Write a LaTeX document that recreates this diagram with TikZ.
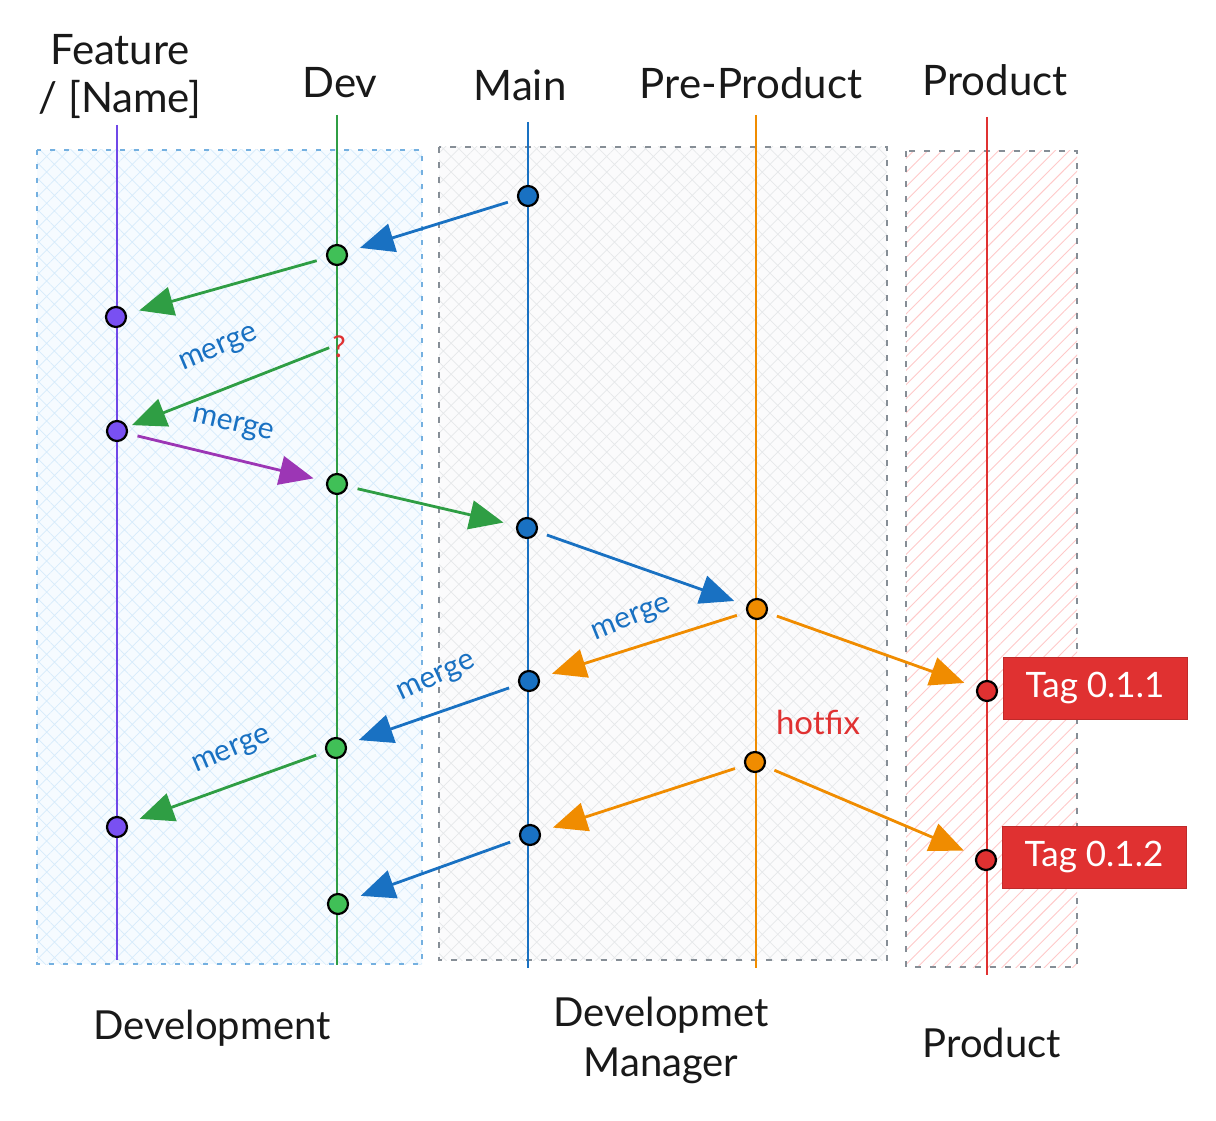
\documentclass[tikz,border=0pt]{standalone}
\usepackage{fontspec}
\setmainfont{Lato}
\usetikzlibrary{arrows.meta,patterns.meta}
\definecolor{cblue}{HTML}{1971C2}
\definecolor{cgreen}{HTML}{2F9E44}
\definecolor{cgreenf}{HTML}{40C057}
\definecolor{cviolet}{HTML}{7048E8}
\definecolor{cvioletf}{HTML}{7950F2}
\definecolor{cpurple}{HTML}{9C36B5}
\definecolor{corange}{HTML}{F08C00}
\definecolor{cred}{HTML}{E03131}
\definecolor{dashblue}{HTML}{74B0E0}
\definecolor{dashgray}{HTML}{868E96}
\definecolor{hatchblue}{HTML}{D6EBFB}
\definecolor{hatchgray}{HTML}{E6E8EA}
\definecolor{hatchred}{HTML}{FFC9C9}
\definecolor{fillblue}{HTML}{F6FBFF}
\definecolor{fillgray}{HTML}{FBFBFC}
\tikzset{
  lane/.style={line width=1.6pt},
  arr/.style={line width=2.8pt, -{Triangle[length=34pt,width=29pt]}, shorten <=10pt, shorten >=13pt},
  dot/.style={circle, minimum size=20pt, inner sep=0pt, fill=#1, draw=black, line width=2.2pt},
  hdr/.style={font=\fontsize{42}{48}\selectfont, align=center, text=black!90},
  ftr/.style={font=\fontsize{40}{50}\selectfont, align=center, text=black!90},
  mlabel/.style={font=\fontsize{30}{34}\selectfont, text=cblue, inner sep=1pt},
  tagbox/.style={fill=cred, draw=cred!85!black, line width=1pt, text=white, font=\fontsize{35}{40}\selectfont, minimum width=184pt, minimum height=62pt, inner sep=0pt},
}
\begin{document}
\begin{tikzpicture}[x=1pt,y=-1pt]
\useasboundingbox (0,0) rectangle (1216,1121);
\fill[white] (0,0) rectangle (1216,1121);
% zone boxes
\fill[fillblue] (37,150) rectangle (422,964);
\fill[pattern={Hatch[angle=45,distance=11pt,line width=0.7pt]}, pattern color=hatchblue] (37,150) rectangle (422,964);
\draw[dashblue, line width=2.6pt, dash pattern=on 5pt off 9pt] (37,150) rectangle (422,964);
\fill[fillgray] (439,147) rectangle (887,960);
\fill[pattern={Hatch[angle=45,distance=11pt,line width=0.7pt]}, pattern color=hatchgray] (439,147) rectangle (887,960);
\draw[dashgray, line width=2.6pt, dash pattern=on 6pt off 9pt] (439,147) rectangle (887,960);
\fill[pattern={Lines[angle=45,distance=10pt,line width=0.9pt]}, pattern color=hatchred] (906,151) rectangle (1077,967);
\draw[dashgray, line width=2.6pt, dash pattern=on 6pt off 9pt] (906,151) rectangle (1077,967);
% lanes
\draw[lane, cviolet] (117,125) -- (117,960);
\draw[lane, cgreen] (337,115) -- (337,965);
\draw[lane, cblue] (528,122) -- (528,968);
\draw[lane, corange] (756,115) -- (756,968);
\draw[lane, cred] (987,117) -- (987,975);
% headers
\node[hdr] (hfeat) at (120,76) {Feature\\/ [Name]};
\node[hdr] (hdev) at (340,83) {Dev};
\node[hdr] (hmain) at (520,85) {Main};
\node[hdr] (hpre) at (751,83) {Pre-Product};
\node[hdr] (hprod) at (995,80) {Product};
% footers
\node[ftr] (fdev) at (212,1028) {Development};
\node[ftr] (fman) at (661,1040) {Developmet\\Manager};
\node[ftr] (fprod) at (992,1043) {Product};
% commits
\node[dot=cblue] (m1) at (528,196) {};
\node[dot=cgreenf] (d1) at (337,255) {};
\node[dot=cvioletf] (f1) at (116,317) {};
\node[dot=cvioletf] (f2) at (117,431) {};
\node[dot=cgreenf] (d2) at (337,484) {};
\node[dot=cblue] (m2) at (527,528) {};
\node[dot=corange] (p1) at (757,609) {};
\node[dot=cred] (r1) at (987,691) {};
\node[dot=cblue] (m3) at (529,681) {};
\node[dot=cgreenf] (d3) at (336,748) {};
\node[dot=corange] (p2) at (755,762) {};
\node[dot=cvioletf] (f3) at (117,827) {};
\node[dot=cblue] (m4) at (530,835) {};
\node[dot=cred] (r2) at (986,860) {};
\node[dot=cgreenf] (d4) at (338,904) {};
\node[text=cred, font=\fontsize{30}{34}\selectfont, inner sep=1pt] (q) at (339,347) {?};
% arrows
\draw[arr, cblue] (m1) -- (d1);
\draw[arr, cgreen] (d1) -- (f1);
\draw[arr, cgreen, shorten <=2pt, shorten >=5pt] (q.west) -- (f2);
\draw[arr, cpurple] (f2) -- (d2);
\draw[arr, cgreen] (d2) -- (m2);
\draw[arr, cblue] (m2) -- (p1);
\draw[arr, corange] (p1) -- (m3);
\draw[arr, corange] (p1) -- (r1);
\draw[arr, cblue] (m3) -- (d3);
\draw[arr, cgreen] (d3) -- (f3);
\draw[arr, corange] (p2) -- (m4);
\draw[arr, corange] (p2) -- (r2);
\draw[arr, cblue] (m4) -- (d4);
% labels
\node[mlabel, rotate=23] (l1) at (219,350) {merge};
\node[mlabel, rotate=-13] (l2) at (233,426) {merge};
\node[mlabel, rotate=22] (l3) at (632,620) {merge};
\node[mlabel, rotate=25] (l4) at (437,679) {merge};
\node[mlabel, rotate=23] (l5) at (232,752) {merge};
\node[font=\fontsize{33}{38}\selectfont, text=cred] (hf) at (818,722) {hotfix};
% tags
\node[tagbox] (t1) at (1095,688) {Tag 0.1.1};
\node[tagbox] (t2) at (1094,857) {Tag 0.1.2};
\end{tikzpicture}
\end{document}
